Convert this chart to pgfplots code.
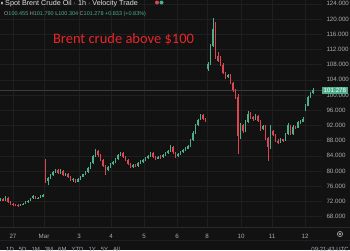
\documentclass[border=0pt]{standalone}
\usepackage{fontspec}
\setmainfont{Liberation Sans}
\newfontfamily\carlito{Carlito}
\usepackage{pgfplots}
\usepackage{pgfplotstable}
\pgfplotsset{compat=1.18}
\definecolor{bg}{HTML}{121212}
\definecolor{gridc}{HTML}{1F1F1F}
\definecolor{sepc}{HTML}{2A2A2A}
\definecolor{up}{HTML}{4CAF8A}
\definecolor{dn}{HTML}{DD4550}
\definecolor{lbl}{HTML}{A8ABB2}
\definecolor{pline}{HTML}{3A3C40}
\definecolor{redtxt}{HTML}{E8262A}

\pgfplotstableread{
x o h l c
0.5 72.3 72.9 72.0 72.6
3 72.6 72.8 72.1 72.3
5.5 72.3 73.3 72.2 73.0
8 73.0 73.1 71.5 71.8
10.5 71.8 72.0 71.1 71.3
13 71.3 71.5 70.9 71.2
15.5 71.2 71.4 70.8 71.0
18 71.0 71.2 70.6 70.9
20.5 70.9 71.4 70.8 71.2
23 71.2 71.6 71.0 71.4
25.5 71.4 72.1 71.3 71.9
28 71.9 72.3 71.7 72.1
30.5 72.1 73.0 72.0 72.8
33 72.8 73.7 72.6 73.4
35.5 73.4 73.5 72.6 72.8
38 72.8 73.2 72.6 73.0
40.5 73.0 73.6 72.9 73.4
43 73.4 73.9 73.2 73.7
45.5 82.6 83.2 76.8 77.3
48 77.3 78.5 76.3 78.1
50.5 78.1 79.2 77.8 78.9
53 78.9 80.1 78.6 79.8
55.5 79.8 80.5 79.4 80.2
58 80.2 80.6 79.3 79.5
60.5 79.5 80.4 79.2 80.0
63 80.0 80.2 78.8 79.0
65.5 79.0 79.6 78.6 79.3
68 79.3 79.5 78.1 78.4
70.5 78.4 78.6 77.4 77.7
73 77.7 78.2 77.2 77.9
75.5 77.9 78.0 76.9 77.2
78 77.2 78.1 77.0 77.9
80.5 77.9 78.7 77.7 78.5
83 78.5 79.3 78.3 79.1
85.5 79.1 80.0 78.9 79.8
88 79.8 81.0 79.6 80.8
90.5 80.8 82.4 80.6 82.1
93 82.1 84.2 81.9 83.9
95.5 83.9 85.8 83.6 85.2
98 85.2 85.4 83.8 84.1
100.5 84.1 84.4 82.6 82.9
103 82.9 83.1 81.0 81.3
105.5 81.3 81.6 79.0 80.2
108 80.2 81.4 79.9 81.1
110.5 81.1 82.1 80.8 81.8
113 81.8 82.7 81.5 82.4
115.5 82.4 83.5 82.2 83.2
118 83.2 84.4 83.0 84.1
120.5 84.1 85.0 83.9 84.7
123 84.7 84.9 83.4 83.7
125.5 83.7 83.9 82.6 82.9
128 82.9 83.1 81.5 81.8
130.5 81.8 82.0 80.8 81.1
133 81.1 81.9 80.9 81.6
135.5 81.6 81.8 81.0 81.3
138 81.3 82.3 81.1 82.0
140.5 82.0 82.8 81.8 82.5
143 82.5 83.2 82.2 82.9
145.5 82.9 83.7 82.7 83.4
148 83.4 84.3 83.2 84.0
150.5 84.0 85.0 83.8 84.7
153 84.7 84.9 83.5 83.8
155.5 83.8 84.0 83.0 83.3
158 83.3 84.0 83.1 83.8
160.5 83.8 84.1 83.2 83.6
163 83.6 84.5 83.4 84.2
165.5 84.2 85.0 84.0 84.7
168 84.7 85.6 84.5 85.3
170.5 85.3 86.8 85.1 86.3
173 86.3 86.5 84.6 84.9
175.5 84.9 85.1 83.5 84.0
178 84.0 84.8 83.7 84.5
180.5 84.5 85.3 84.3 85.0
183 85.0 85.8 84.8 85.5
185.5 85.5 86.2 85.2 85.9
188 85.9 86.8 85.7 86.5
190.5 86.5 88.4 86.3 88.1
193 88.1 90.4 87.9 90.0
195.5 90.0 92.3 89.8 92.0
198 92.0 93.8 91.8 93.5
200.5 93.5 95.1 93.3 94.7
203 94.7 94.9 93.5 93.8
205.5 93.8 94.0 92.8 93.1
208 106.8 108.6 106.2 108.2
210.5 108.2 113.5 107.9 113.0
213 113.0 120.3 112.6 117.5
215.5 117.5 119.3 109.4 110.2
218 110.2 111.4 108.6 109.0
220.5 109.0 110.2 107.6 108.0
223 108.0 108.3 105.4 105.8
225.5 105.8 106.1 104.3 104.7
228 104.7 105.6 104.4 105.2
230.5 105.2 105.4 102.8 103.1
233 103.1 103.4 100.9 101.3
235.5 101.3 101.6 98.9 99.4
238 99.4 100.2 84.5 89.2
240.5 89.2 92.6 88.4 92.0
243 92.0 92.3 90.0 90.6
245.5 90.6 93.4 90.3 93.0
248 93.0 95.8 92.7 95.1
250.5 95.1 95.4 93.8 94.2
253 94.2 94.5 93.2 93.6
255.5 93.6 94.9 93.3 94.5
258 94.5 94.7 92.8 93.1
260.5 93.1 93.3 90.6 91.0
263 91.0 92.2 90.7 91.8
265.5 91.8 92.0 88.1 88.6
268 88.6 88.9 82.5 86.2
270.5 86.2 92.0 85.9 90.6
273 90.6 90.9 89.1 89.5
275.5 89.5 89.7 87.6 88.0
278 88.0 88.3 87.1 87.5
280.5 87.5 88.7 87.3 88.3
283 88.3 88.5 87.6 88.0
285.5 88.0 90.1 87.8 89.8
288 89.8 92.6 89.6 92.0
290.5 92.0 92.2 89.4 89.8
293 89.8 92.0 89.6 91.7
295.5 91.7 91.9 91.0 91.4
298 91.4 93.1 91.2 92.8
300.5 92.8 93.3 92.5 93.0
303 93.0 94.1 92.8 93.8
305.5 96.4 97.6 95.8 97.2
308 97.2 99.8 97.0 99.5
310.5 99.5 100.8 99.2 100.455
313 100.455 101.79 100.304 101.278
}\candles

\begin{document}
\begin{tikzpicture}[x=1pt,y=1pt]
\useasboundingbox (0,-23) rectangle (350,227);
\fill[bg] (0,-23) rectangle (350,227);
\draw[sepc, line width=0.5pt] (0,0) -- (350,0);
\draw[gridc, line width=0.5pt] (0,-13) -- (350,-13);
\begin{axis}[
  anchor=south west,
  scale only axis, width=322pt, height=227pt,
  xmin=0, xmax=322, ymin=65.26, ymax=125,
  clip=false,
  axis line style={draw=none},
  major tick length=0pt,
  grid=major,
  major grid style={gridc, line width=0.5pt},
  ytick={68,72,...,124},
  yticklabel pos=right,
  yticklabel={\pgfmathprintnumber[fixed,fixed zerofill,precision=3,assume math mode=true]{\tick}},
  yticklabel style={font=\fontsize{6.2}{7}\selectfont, text=lbl, anchor=west, xshift=1pt},
  xtick={13,44,79,111,144,177,207,241,272,305},
  xticklabels={27,Mar,3,4,5,6,8,10,11,12},
  xticklabel style={font=\fontsize{6.2}{7}\selectfont, text=lbl, anchor=base, yshift=-11pt},
]
% price line
\addplot[color=pline, line width=0.5pt, forget plot] coordinates {(0,101.278) (322,101.278)};
% wicks up
\addplot[draw=none, mark=none, forget plot,
  restrict expr to domain={\thisrow{c}-\thisrow{o}}{0:1000},
  error bars/.cd, y dir=both, y explicit, error mark=none,
  error bar style={color=up, line width=0.5pt}]
  table[x=x, y expr={(\thisrow{h}+\thisrow{l})/2}, y error expr={(\thisrow{h}-\thisrow{l})/2}] {\candles};
% bodies up
\addplot[draw=none, mark=none, forget plot,
  restrict expr to domain={\thisrow{c}-\thisrow{o}}{0:1000},
  error bars/.cd, y dir=both, y explicit, error mark=none,
  error bar style={color=up, line width=1.4pt}]
  table[x=x, y expr={(\thisrow{o}+\thisrow{c})/2}, y error expr={(\thisrow{c}-\thisrow{o})/2}] {\candles};
% wicks down
\addplot[draw=none, mark=none, forget plot,
  restrict expr to domain={\thisrow{o}-\thisrow{c}}{0.00001:1000},
  error bars/.cd, y dir=both, y explicit, error mark=none,
  error bar style={color=dn, line width=0.5pt}]
  table[x=x, y expr={(\thisrow{h}+\thisrow{l})/2}, y error expr={(\thisrow{h}-\thisrow{l})/2}] {\candles};
% bodies down
\addplot[draw=none, mark=none, forget plot,
  restrict expr to domain={\thisrow{o}-\thisrow{c}}{0.00001:1000},
  error bars/.cd, y dir=both, y explicit, error mark=none,
  error bar style={color=dn, line width=1.4pt}]
  table[x=x, y expr={(\thisrow{o}+\thisrow{c})/2}, y error expr={(\thisrow{o}-\thisrow{c})/2}] {\candles};
\node[fill=up, text=white, font=\fontsize{6.2}{7}\selectfont, inner xsep=1.5pt, inner ysep=1.2pt, anchor=west] at (axis cs:322,101.278) {101.278};
\end{axis}
% titles
\node[anchor=base west, text=white!88!black, font=\fontsize{7.2}{8}\selectfont, inner sep=0pt] at (5,221.5) {Spot Brent Crude Oil · 1h · Velocity Trade};
\fill[white!80!black] (2,224) ellipse (1pt and 1.6pt);
\fill[dn] (157,224.5) circle (2pt);
\fill[up] (161.5,224.5) circle (2pt);
\node[anchor=base west, font=\fontsize{5.5}{6}\selectfont, inner sep=0pt] at (4,211.5) {\textcolor{lbl}{O}\textcolor{up}{100.455} \textcolor{lbl}{H}\textcolor{up}{101.790} \textcolor{lbl}{L}\textcolor{up}{100.304} \textcolor{lbl}{C}\textcolor{up}{101.278 +0.833 (+0.83\%)}};
\node[text=redtxt, font=\carlito\fontsize{14.5}{15}\selectfont, inner sep=0pt] at (123.5,188) {Brent crude above \$100};
% bottom bar
\node[anchor=base west, text=lbl, font=\fontsize{6}{7}\selectfont, inner sep=0pt] at (6,-24.5) {1D\hspace{5pt}5D\hspace{5pt}1M\hspace{5pt}3M\hspace{5pt}6M\hspace{5pt}YTD\hspace{5pt}1Y\hspace{5pt}5Y\hspace{5pt}All};
\node[anchor=base east, text=lbl, font=\fontsize{6}{7}\selectfont, inner sep=0pt] at (349,-24.5) {09:21:43 UTC};
\draw[lbl, line width=0.6pt] (340,-7) circle (2.6pt);
\draw[lbl, line width=0.5pt] (340,-7) circle (1pt);
\end{tikzpicture}
\end{document}
